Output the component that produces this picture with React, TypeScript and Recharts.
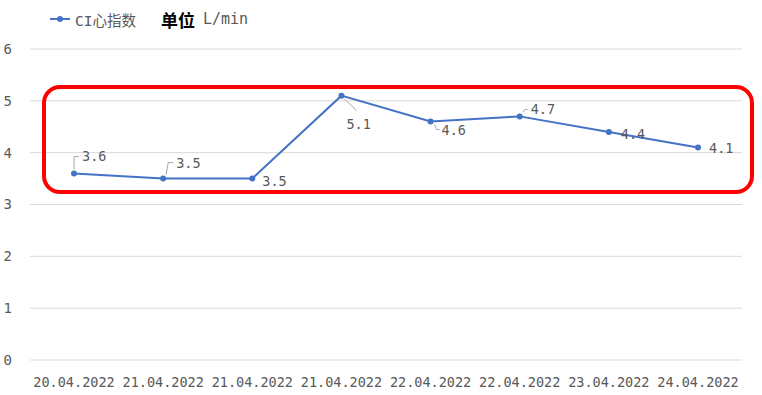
import { LineChart, Line, XAxis, YAxis, CartesianGrid, LabelList } from 'recharts';

const categories = [
  '20.04.2022',
  '21.04.2022',
  '21.04.2022',
  '21.04.2022',
  '22.04.2022',
  '22.04.2022',
  '23.04.2022',
  '24.04.2022',
];
const ciValues = [3.6, 3.5, 3.5, 5.1, 4.6, 4.7, 4.4, 4.1];
const yTicks = [0, 1, 2, 3, 4, 5, 6];

const data = categories.map((c, i) => ({ name: c, ci: ciValues[i] }));

// where each data label sits relative to its point (Excel-style manual placement)
const labelPlacement = [
  { dx: 8, dy: -17, leader: 'elbow' },
  { dx: 13, dy: -16, leader: 'elbow' },
  { dx: 10, dy: 2, leader: '' },
  { dx: 5, dy: 28, leader: 'diag' },
  { dx: 11, dy: 8, leader: 'low' },
  { dx: 11, dy: -7, leader: 'elbow' },
  { dx: 12, dy: 2, leader: '' },
  { dx: 11, dy: 1, leader: '' },
];

const MONO = '"DejaVu Sans Mono", "Noto Sans CJK SC", monospace';
const GRAY = '#595959';
const BLUE = '#4472C4';

const PointLabel = (props: any) => {
  const { x, y, value, index } = props;
  const p = labelPlacement[index];
  const tx = x + p.dx;
  const ty = y + p.dy;
  let leader = null;
  if (p.leader === 'elbow') {
    leader = (
      <polyline
        points={`${x + (p.dx > 10 ? 3 : 0)},${y - 4} ${x + (p.dx > 10 ? 5 : 0)},${ty} ${tx - 3},${ty}`}
        fill="none"
        stroke="#a6a6a6"
        strokeWidth={1}
      />
    );
  } else if (p.leader === 'diag') {
    leader = <line x1={x + 3} y1={y + 3} x2={x + 15} y2={y + 15} stroke="#a6a6a6" strokeWidth={1} />;
  } else if (p.leader === 'low') {
    leader = (
      <polyline points={`${x + 4},${y + 3} ${x + 6},${ty} ${tx - 2},${ty}`} fill="none" stroke="#a6a6a6" strokeWidth={1} />
    );
  }
  return (
    <g>
      {leader}
      <text x={tx} y={ty} fill={GRAY} fontSize={13.5} fontFamily={MONO} textAnchor="start" dominantBaseline="central">
        {value}
      </text>
    </g>
  );
};

export default function App() {
  return (
    <div style={{ position: 'absolute', left: 0, top: 0, width: 762, height: 395, background: '#fff' }}>
      <div
        style={{
          position: 'absolute',
          left: 48,
          top: 7,
          height: 24,
          display: 'flex',
          alignItems: 'center',
          whiteSpace: 'nowrap',
        }}
      >
        <svg width={24} height={10} style={{ marginRight: 3 }}>
          <line x1={2} y1={5} x2={22} y2={5} stroke={BLUE} strokeWidth={2} />
          <circle cx={12} cy={5} r={3} fill={BLUE} />
        </svg>
        <span style={{ fontFamily: MONO, fontSize: 14.5, color: GRAY }}>CI心指数</span>
        <span
          style={{
            marginLeft: 25,
            fontFamily: '"Noto Sans CJK SC", sans-serif',
            fontSize: 17,
            fontWeight: 'bold',
            color: '#000',
          }}
        >
          单位
        </span>
        <span style={{ marginLeft: 8, fontFamily: MONO, fontSize: 15, color: GRAY }}>L/min</span>
      </div>
      <LineChart width={762} height={395} data={data} margin={{ top: 49, right: 20, bottom: 5, left: 0 }}>
        <CartesianGrid vertical={false} stroke="#d9d9d9" />
        <XAxis
          dataKey="name"
          axisLine={false}
          tickLine={false}
          height={30}
          tickMargin={11}
          interval={0}
          padding={{ left: 44, right: 44 }}
          tick={{ fill: GRAY, fontSize: 13.5, fontFamily: MONO }}
        />
        <YAxis
          domain={[0, 6]}
          ticks={yTicks}
          width={30}
          axisLine={false}
          tickLine={false}
          tickMargin={12}
          tick={{ fill: GRAY, fontSize: 14, fontFamily: MONO }}
        />
        <Line
          type="linear"
          dataKey="ci"
          stroke={BLUE}
          strokeWidth={2}
          dot={{ r: 3, fill: BLUE, stroke: BLUE, strokeWidth: 0 }}
          isAnimationActive={false}
        >
          <LabelList dataKey="ci" content={PointLabel} />
        </Line>
      </LineChart>
      <div
        style={{
          position: 'absolute',
          left: 42,
          top: 85,
          width: 712,
          height: 109,
          boxSizing: 'border-box',
          border: '4px solid #ff0000',
          borderRadius: 18,
          pointerEvents: 'none',
        }}
      />
    </div>
  );
}
